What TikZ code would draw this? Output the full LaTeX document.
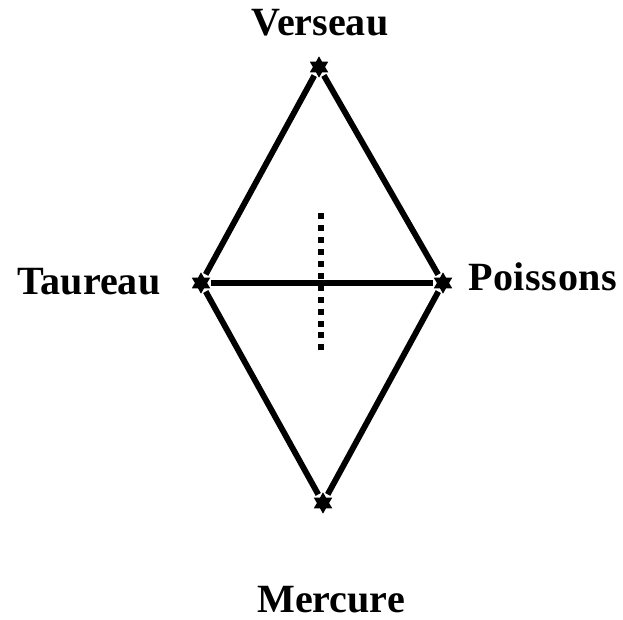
\documentclass[tikz,border=0pt]{standalone}
\usepackage{fontspec}
\setmainfont{Liberation Serif}
\usetikzlibrary{
    positioning,
    shapes.geometric
}

\begin{document}
\begin{tikzpicture}
[
    x=0.03cm,
    y=0.03cm,
    font=\fontsize{34.2}{40}\selectfont\bfseries,
    astre/.style={
        star,
        star points=6,
        star point ratio=1.75,
        fill=black,
        inner sep=0pt,
        minimum size=0.64cm
    },
    link/.style={
        line width=5pt,
        shorten <=0.1cm,
        shorten >=0.1cm
    },
    sign/.style={
        inner sep=0pt,
        text depth=0pt,
        anchor=base
    },
    axis/.style={
        line width=5pt,
        dash pattern=on 5.1pt off 5.1pt
    }
]

\useasboundingbox (0,0) rectangle (623,619);


% =====================
% STARS
% =====================

\node[astre] (verseau) at (319,552) {};

\node[astre] (taureau) at (201,336) {};

\node[astre] (poissons) at (443,336) {};

\node[astre] (mercure) at (323,116) {};


% =====================
% LABELS
% =====================

\node[sign] (lverseau) at (320,583) {Verseau};

\node[sign] (ltaureau) at (89,324) {Taureau};

\node[sign, anchor=base west] (lpoissons) at (468,328)
{\addfontfeatures{LetterSpace=1.5}Poissons};

\node[sign] (lmercure) at (331,7) {Mercure};


% =====================
% CONNECTIONS
% =====================

\coordinate (axetop) at (321,406);
\coordinate (axebot) at (321,264);

\draw[axis]
(axetop)
--
(axebot);

\draw[link]
(verseau)
--
(taureau);

\draw[link]
(verseau)
--
(poissons);

\draw[link]
(taureau)
--
(mercure);

\draw[link]
(poissons)
--
(mercure);

\draw[link]
(taureau)
--
(poissons);

\end{tikzpicture}
\end{document}
